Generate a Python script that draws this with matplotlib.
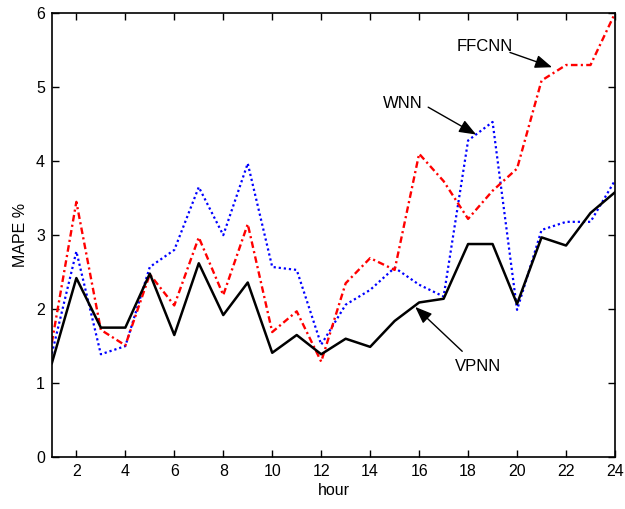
import matplotlib
matplotlib.use("Agg")
import matplotlib.pyplot as plt

plt.rcParams["font.family"] = ["Liberation Sans", "DejaVu Sans"]
plt.rcParams["font.size"] = 11.5

hours = list(range(1, 25))
# VPNN - black solid
vpnn = [1.27, 2.42, 1.75, 1.75, 2.48, 1.65, 2.62, 1.92, 2.36, 1.41, 1.65, 1.39,
        1.60, 1.49, 1.84, 2.09, 2.14, 2.88, 2.88, 2.07, 2.97, 2.86, 3.30, 3.58]
# WNN - blue dotted
wnn = [1.40, 2.78, 1.39, 1.50, 2.57, 2.80, 3.65, 3.00, 3.97, 2.57, 2.53, 1.52,
       2.06, 2.26, 2.56, 2.33, 2.17, 4.28, 4.53, 1.99, 3.07, 3.18, 3.18, 3.74]
# FFCNN - red dash-dot
ffcnn = [1.55, 3.45, 1.72, 1.51, 2.47, 2.05, 2.97, 2.19, 3.15, 1.69, 1.97, 1.29,
         2.35, 2.69, 2.53, 4.10, 3.73, 3.22, 3.60, 3.90, 5.09, 5.30, 5.30, 6.00]

fig = plt.figure(figsize=(6.25, 5.09), dpi=100, facecolor="w")
ax = fig.add_axes([0.083, 0.102, 0.901, 0.872])

ax.plot(hours, wnn, color="blue", linestyle=(0, (1, 1.3)), linewidth=1.6)
ax.plot(hours, ffcnn, color="red", linestyle=(0, (2.8, 1.4, 0.9, 1.4)), linewidth=1.7)
ax.plot(hours, vpnn, color="black", linestyle="-", linewidth=1.8)

ax.set_xlim(1, 24)
ax.set_ylim(0, 6)
ax.set_xticks(range(2, 25, 2))
ax.set_yticks(range(0, 7))
ax.tick_params(direction="in", top=True, right=True, length=5, width=1, pad=5)
for s in ax.spines.values():
    s.set_linewidth(1.2)

ax.set_xlabel("hour", labelpad=3)
ax.set_ylabel("MAPE %", labelpad=6)

# labels and arrows
arrow = dict(arrowstyle="-|>,head_length=0.9,head_width=0.35", color="black",
             lw=1, shrinkA=0, shrinkB=0)
ax.text(18.69, 5.55, "FFCNN", ha="center", va="center", fontsize=12)
ax.annotate("", xy=(21.43, 5.27), xytext=(19.71, 5.47), arrowprops=arrow)
ax.text(15.35, 4.78, "WNN", ha="center", va="center", fontsize=12)
ax.annotate("", xy=(18.33, 4.36), xytext=(16.37, 4.73), arrowprops=arrow)
ax.text(18.41, 1.22, "VPNN", ha="center", va="center", fontsize=12)
ax.annotate("", xy=(15.84, 2.03), xytext=(17.76, 1.43), arrowprops=arrow)

fig.savefig("out.png", dpi=100)
